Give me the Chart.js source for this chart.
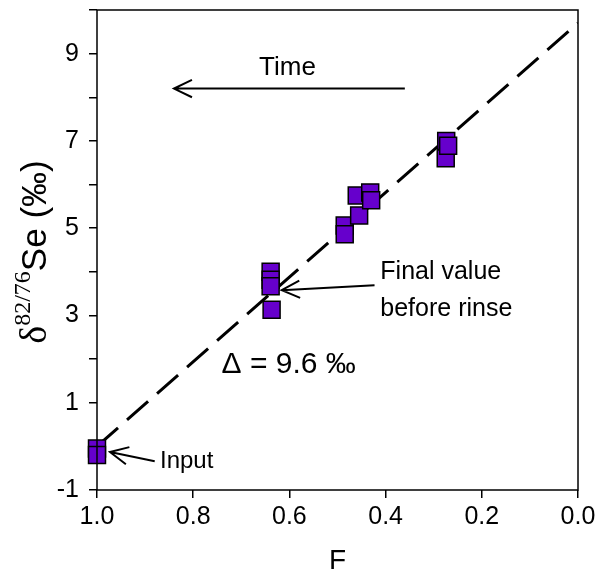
<!DOCTYPE html>
<html>
<head>
<meta charset="utf-8">
<script src="https://cdn.jsdelivr.net/npm/chart.js@4.4.1/dist/chart.umd.min.js"></script>
<style>
  html, body { margin: 0; padding: 0; background: #fff; }
  #wrap { width: 599px; height: 582px; position: relative; }
</style>
</head>
<body>
<div id="wrap"><canvas id="c" width="599" height="582"></canvas></div>
<script>
// ---- data ----
const fValues     = [1.0, 1.0, 0.639, 0.639, 0.639, 0.637, 0.485, 0.485, 0.46, 0.455, 0.432, 0.43, 0.274, 0.275, 0.27];
const deltaValues = [-0.05, -0.2, 4.0, 3.82, 3.67, 3.13, 5.06, 4.86, 5.75, 5.29, 5.82, 5.64, 7.0, 6.6, 6.89];
const fitF        = [1.0, 0.0];
const fitDelta    = [0.0, 9.7];
const xTicks      = [1.0, 0.8, 0.6, 0.4, 0.2, 0.0];
const yTickLabels = [-1, 1, 3, 5, 7, 9];

const FONT = "'Liberation Sans', Arial, sans-serif";
const SERIF = "'Liberation Serif', 'Times New Roman', serif";

const points = fValues.map((f, i) => ({ x: f, y: deltaValues[i] }));
const fitLine = fitF.map((f, i) => ({ x: f, y: fitDelta[i] }));

const annotations = {
  id: 'annotations',
  afterDraw(chart) {
    const { ctx, scales: { x, y }, chartArea: a } = chart;
    ctx.save();
    // frame
    ctx.strokeStyle = '#000';
    ctx.lineWidth = 1.5;
    ctx.strokeRect(a.left, a.top, a.right - a.left, a.bottom - a.top);

    const arrow = (x1, y1, x2, y2) => {
      const px1 = x.getPixelForValue(x1), py1 = y.getPixelForValue(y1);
      const px2 = x.getPixelForValue(x2), py2 = y.getPixelForValue(y2);
      ctx.beginPath();
      ctx.moveTo(px1, py1); ctx.lineTo(px2, py2);
      const ang = Math.atan2(py2 - py1, px2 - px1);
      const L = 20, spread = 0.45;
      ctx.moveTo(px2 - L * Math.cos(ang - spread), py2 - L * Math.sin(ang - spread));
      ctx.lineTo(px2, py2);
      ctx.lineTo(px2 - L * Math.cos(ang + spread), py2 - L * Math.sin(ang + spread));
      ctx.lineWidth = 2;
      ctx.strokeStyle = '#000';
      ctx.stroke();
    };
    const text = (s, fx, vy, size, align) => {
      ctx.font = size + 'px ' + FONT;
      ctx.fillStyle = '#000';
      ctx.textAlign = align;
      ctx.textBaseline = 'middle';
      ctx.fillText(s, x.getPixelForValue(fx), y.getPixelForValue(vy));
    };

    text('Time', 0.604, 8.68, 26, 'center');
    arrow(0.36, 8.2, 0.84, 8.2);
    text('Final value', 0.411, 3.99, 25, 'left');
    text('before rinse', 0.411, 3.14, 25, 'left');
    arrow(0.423, 3.69, 0.616, 3.58);
    text('\u0394 = 9.6 \u2030', 0.741, 1.86, 30, 'left');
    text('Input', 0.869, -0.34, 24, 'left');
    arrow(0.88, -0.34, 0.973, -0.13);

    // y axis title with superscript
    const cx = 33, cy = 252;
    ctx.translate(cx, cy);
    ctx.rotate(-Math.PI / 2);
    ctx.textBaseline = 'alphabetic';
    ctx.textAlign = 'left';
    const parts = [
      { s: '\u03b4', f: '38px ' + SERIF, dy: 0 },
      { s: '82/76', f: '24px ' + SERIF, dy: -16 },
      { s: 'Se (\u2030)', f: '35px ' + FONT, dy: 0 }
    ];
    let total = 0;
    parts.forEach(p => { ctx.font = p.f; p.w = ctx.measureText(p.s).width; total += p.w; });
    let px = -total / 2;
    parts.forEach(p => { ctx.font = p.f; ctx.fillText(p.s, px, 13 + p.dy); px += p.w; });
    ctx.restore();
  }
};

new Chart(document.getElementById('c'), {
  type: 'scatter',
  data: {
    datasets: [
      {
        type: 'line',
        data: fitLine,
        borderColor: '#000',
        borderWidth: 3,
        borderDash: [28, 12],
        pointRadius: 0,
        fill: false,
        order: 2
      },
      {
        data: points,
        pointStyle: 'rect',
        pointRadius: 12,
        pointHoverRadius: 12,
        backgroundColor: '#6600cc',
        borderColor: '#000',
        borderWidth: 1.5,
        clip: false,
        order: 1
      }
    ]
  },
  plugins: [annotations],
  options: {
    responsive: false,
    animation: false,
    events: [],
    layout: { autoPadding: false, padding: { top: 10, right: 21, left: 0, bottom: 0 } },
    plugins: { legend: { display: false }, tooltip: { enabled: false } },
    scales: {
      x: {
        type: 'linear',
        reverse: true,
        min: 0, max: 1.0,
        afterFit(s) { s.height = 92; s.paddingLeft = 0; s.paddingRight = 0; },
        afterBuildTicks(s) { s.ticks = xTicks.map(v => ({ value: v })); },
        grid: { drawOnChartArea: false, tickLength: 8, color: '#000', lineWidth: 1.5 },
        border: { display: false },
        ticks: { color: '#000', font: { family: FONT, size: 25 }, padding: 4,
                 callback: v => Number(v).toFixed(1) },
        title: { display: true, text: 'F', color: '#000', font: { family: FONT, size: 28 }, padding: { top: 8 } }
      },
      y: {
        type: 'linear',
        min: -1, max: 10,
        afterFit(s) { s.width = 97; s.paddingTop = 0; s.paddingBottom = 0; },
        afterBuildTicks(s) {
          const t = [];
          for (let v = -1; v <= 10; v++) t.push({ value: v });
          s.ticks = t;
        },
        grid: { drawOnChartArea: false, tickLength: 8, color: '#000', lineWidth: 1.5 },
        border: { display: false },
        ticks: { color: '#000', font: { family: FONT, size: 25 }, padding: 10,
                 callback: v => yTickLabels.includes(v) ? String(v) : '' }
      }
    }
  }
});
</script>
</body>
</html>
